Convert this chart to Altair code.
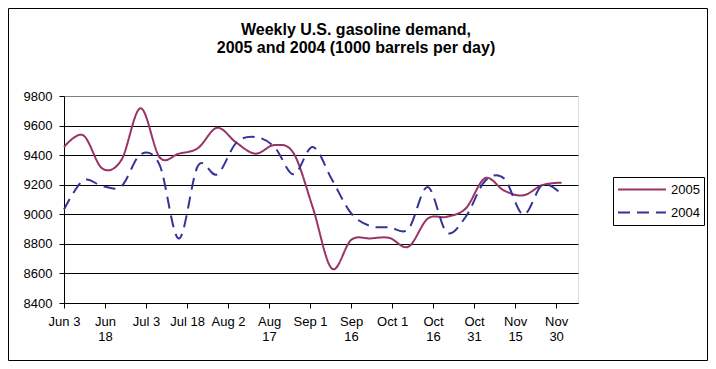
import json
import pandas as pd
import altair as alt

# ---- data ----
weeks = ["Jun 3", "Jun 10", "Jun 17", "Jun 24", "Jul 1", "Jul 8", "Jul 15", "Jul 22",
         "Jul 29", "Aug 5", "Aug 12", "Aug 19", "Aug 26", "Sep 2", "Sep 9", "Sep 16",
         "Sep 23", "Sep 30", "Oct 7", "Oct 14", "Oct 21", "Oct 28", "Nov 4", "Nov 11",
         "Nov 18", "Nov 25", "Dec 2"]
days = [7 * i for i in range(len(weeks))]  # days after Jun 3

demand_2005 = [9455, 9535, 9310, 9368, 9717, 9385, 9410, 9448, 9585, 9485, 9410, 9468,
               9412, 9045, 8632, 8826, 8837, 8840, 8781, 8970, 8983, 9041, 9244, 9160,
               9128, 9198, 9214]
demand_2004 = [9032, 9228, 9192, 9190, 9405, 9332, 8836, 9328, 9270, 9483, 9523, 9455,
               9270, 9455, 9235, 9007, 8921, 8912, 8902, 9185, 8878, 8985, 9225, 9242,
               8998, 9200, 9136]

series = ["2005", "2004"]
colors = ["#993366", "#333399"]
dashes = [[1, 0], [12, 7]]

tick_days = [0, 15, 30, 45, 60, 75, 90, 105, 120, 135, 150, 165, 180]
tick_labels = ["Jun 3", "Jun|18", "Jul 3", "Jul 18", "Aug 2", "Aug|17", "Sep 1",
               "Sep|16", "Oct 1", "Oct|16", "Oct|31", "Nov|15", "Nov|30"]
y_ticks = [8400, 8600, 8800, 9000, 9200, 9400, 9600, 9800]

title_lines = ["Weekly U.S. gasoline demand,", "2005 and 2004 (1000 barrels per day)"]

rows = []
for w, d, v in zip(weeks, days, demand_2005):
    rows.append({"week": w, "day": d, "demand": v, "year": "2005"})
for w, d, v in zip(weeks, days, demand_2004):
    rows.append({"week": w, "day": d, "demand": v, "year": "2004"})
df = pd.DataFrame(rows)

FONT = "Liberation Sans"
W, H = 514, 207
PAD = {"left": 56, "top": 88, "right": 130, "bottom": 58}

labels_js = json.dumps([t.split("|") for t in tick_labels])

legend = alt.Legend(
    title=None, orient="none", legendX=549, legendY=81,
    symbolType="stroke", symbolSize=2304, symbolStrokeWidth=2,
    clipHeight=17, rowPadding=6, labelOffset=4, padding=4,
    labelFont=FONT, labelFontSize=13, labelColor="black", labelBaseline="middle",
    strokeColor="black", fillColor="white", cornerRadius=0,
)

lines = alt.Chart(df).mark_line(interpolate="cardinal", strokeWidth=2).encode(
    x=alt.X("day:Q",
            scale=alt.Scale(domain=[0, 188], nice=False, zero=False),
            axis=alt.Axis(title=None, values=tick_days, labelExpr=f"{labels_js}[round(datum.value/15)]",
                          grid=False, labelOverlap=False, labelFlush=False,
                          tickSize=5, labelPadding=7, labelLineHeight=15,
                          labelFont=FONT, labelFontSize=13, labelColor="black",
                          domainColor="black", tickColor="black")),
    y=alt.Y("demand:Q",
            scale=alt.Scale(domain=[8400, 9800], nice=False, zero=False),
            axis=alt.Axis(title=None, values=y_ticks, format="d", grid=True,
                          gridColor={"condition": {"test": "datum.value == 9800", "value": "#808080"},
                                     "value": "black"},
                          gridOpacity=1, gridWidth=1,
                          tickSize=5, labelPadding=7,
                          labelFont=FONT, labelFontSize=13, labelColor="black",
                          domainColor="black", tickColor="black")),
    color=alt.Color("year:N", scale=alt.Scale(domain=series, range=colors), legend=legend),
    strokeDash=alt.StrokeDash("year:N", scale=alt.Scale(domain=series, range=dashes), legend=legend),
    detail="year:N",
)

frame = alt.Chart(pd.DataFrame({"a": [0]})).mark_rect(
    fill="white", fillOpacity=0, stroke="black", strokeWidth=1
).encode(
    x=alt.value(-55.5), x2=alt.value(W + PAD["right"] - 0.5),
    y=alt.value(-PAD["top"] + 0.5), y2=alt.value(H + PAD["bottom"] - 0.5),
)

title = alt.Chart(pd.DataFrame({"a": [0]})).mark_text(
    font=FONT, fontSize=16, fontWeight="bold", color="black",
    align="center", baseline="alphabetic", lineHeight=18.5,
).encode(
    x=alt.value(292), y=alt.value(-61.5), text=alt.value(title_lines),
)

chart = alt.layer(frame, title, lines).properties(
    width=W, height=H,
    autosize=alt.AutoSizeParams(type="none"),
    padding=PAD,
).configure_view(
    fill="#CCFFFF", stroke="#808080", strokeWidth=1
).configure(background="white")

chart.save("out.html", embed_options={"renderer": "svg", "actions": False})
